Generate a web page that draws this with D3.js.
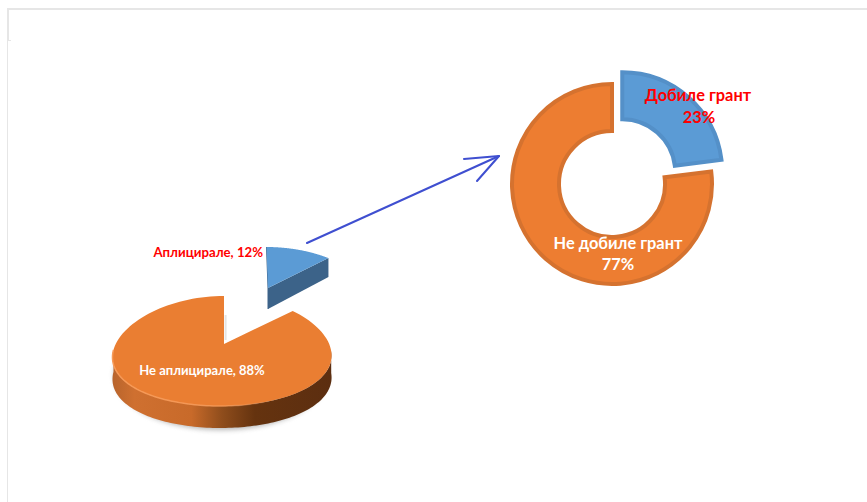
<!DOCTYPE html>
<html>
<head>
<meta charset="utf-8">
<style>
  html, body { margin: 0; padding: 0; background: #fff; }
  svg { display: block; }
  text { font-family: Lato, "Open Sans", "Noto Sans", sans-serif; font-weight: 700; }
</style>
<script src="https://cdn.jsdelivr.net/npm/d3@7"></script>
</head>
<body>
<svg id="chart" width="867" height="502"></svg>
<script>
// Applied vs. not applied (3D pie)
const applyLabels = ["Аплицирале, 12%", "Не аплицирале, 88%"];
const applyValues = [12, 88];
// Grant outcome (doughnut)
const grantNames = ["Добиле грант", "Не добиле грант"];
const grantValues = [23, 77];
const grantPercents = ["23%", "77%"];

const BLUE = "#5b9bd5", ORANGE = "#ed7d31", ORANGE_TOP = "#ea7e32";
const svg = d3.select("#chart");
const defs = svg.append("defs");

// Page frame
const frame = svg.append("g").attr("fill", "#e6e6e6");
frame.append("rect").attr("x", 7).attr("y", 8).attr("width", 860).attr("height", 2);
frame.append("rect").attr("x", 7).attr("y", 8).attr("width", 2).attr("height", 33);
frame.append("rect").attr("x", 7).attr("y", 40).attr("width", 4).attr("height", 1);
frame.append("rect").attr("x", 7).attr("y", 40).attr("width", 1).attr("height", 462);

// ---- 3D pie ----
const pieSlices = d3.pie().value(d => d).sort(null)(applyValues);
const PERSPECTIVE = 0.1;          // far edge of the disc narrows a little
const project = (a, o) => [
  o.cx + o.rx * Math.sin(a) * (1 - PERSPECTIVE * Math.cos(a)) + o.lean * Math.cos(a),
  o.cy - o.ry * Math.cos(a)
];
const rimPoints = (a0, a1, o) => d3.range(0, 121).map(i => project(a0 + (a1 - a0) * i / 120, o));
const line = d3.line();

const orangeDisc = { cx: 222.2, cy: 351, rx: 109, ry: 55, lean: 1.8, ax: 224, ay: 344, depth: 22 };
const blueWedge = { cx: 268, cy: 288, rx: 97, ry: 41, lean: -1.5, ax: 268, ay: 288, depth: 21 };

// Soft shadow under the disc, kept below the notch
defs.append("filter").attr("id", "soft").attr("x", "-20%").attr("y", "-40%").attr("width", "140%").attr("height", "180%")
  .append("feGaussianBlur").attr("stdDeviation", 2.5);
defs.append("clipPath").attr("id", "belowDisc").append("rect")
  .attr("x", 90).attr("y", 352).attr("width", 270).attr("height", 100);
svg.append("g").attr("clip-path", "url(#belowDisc)")
  .append("ellipse").attr("cx", 221).attr("cy", 375).attr("rx", 107).attr("ry", 55)
  .attr("fill", "#7d7d7d").attr("opacity", 0.55).attr("filter", "url(#soft)");

// Orange side wall, lit from the left
const sideGrad = defs.append("linearGradient").attr("id", "sideGrad");
[[0, "#b8642c"], [0.1, "#cf7030"], [0.36, "#c86a2a"], [0.5, "#8f4d1c"], [0.65, "#65330f"], [1, "#5c2e10"]]
  .forEach(([o, c]) => sideGrad.append("stop").attr("offset", o).attr("stop-color", c));
// Rim highlight fades out towards the shaded side
const rimGrad = defs.append("linearGradient").attr("id", "rimGrad");
[[0, "#f79a58", 1], [0.5, "#f79a58", 0.8], [0.72, "#f79a58", 0]]
  .forEach(([o, c, a]) => rimGrad.append("stop").attr("offset", o).attr("stop-color", c).attr("stop-opacity", a));

const o = orangeDisc;
const [orangeSlice, blueSlice] = [pieSlices[1], pieSlices[0]];
const frontRim = rimPoints(Math.PI / 2, 3 * Math.PI / 2 + 0.02, o);
svg.append("path")
  .attr("d", line(frontRim.concat(frontRim.map(p => [p[0], p[1] + o.depth]).reverse())) + "Z")
  .attr("fill", "url(#sideGrad)");

// Faint shade on the cut wall of the notch
svg.append("path").attr("d", line([[225.6, 315], [225.6, 340]]))
  .attr("stroke", "#e4e4e4").attr("stroke-width", 2).attr("fill", "none");

// Orange top face
const orangeRim = rimPoints(orangeSlice.startAngle, orangeSlice.endAngle, o);
svg.append("path")
  .attr("d", line([[o.ax, o.ay], ...orangeRim]) + "Z")
  .attr("fill", ORANGE_TOP);
// Bevel highlight along the near edge
svg.append("path")
  .attr("d", line(frontRim))
  .attr("fill", "none").attr("stroke", "url(#rimGrad)").attr("stroke-width", 1.5);

// Blue wedge: cut face first, then top
const b = blueWedge;
const blueRim = rimPoints(blueSlice.startAngle, blueSlice.endAngle, b);
const corner = blueRim[blueRim.length - 1];
svg.append("path")
  .attr("d", line([[b.ax, b.ay], corner, [corner[0], corner[1] + b.depth - 2], [b.ax, b.ay + b.depth]]) + "Z")
  .attr("fill", "#3c6389");
svg.append("path")
  .attr("d", line([blueRim[0], [b.ax, b.ay], [b.ax, b.ay + b.depth]]))
  .attr("fill", "none").attr("stroke", "#3c6389").attr("stroke-width", 1);
svg.append("path")
  .attr("d", line([[b.ax, b.ay], ...blueRim]) + "Z")
  .attr("fill", BLUE);

svg.append("text").attr("x", 263).attr("y", 256.5).attr("text-anchor", "end")
  .attr("font-size", 13.2).attr("fill", "#ff0000").text(applyLabels[0]);
svg.append("text").attr("x", 202).attr("y", 375).attr("text-anchor", "middle")
  .attr("font-size", 13).attr("fill", "#ffffff").text(applyLabels[1]);

// ---- Connecting arrow ----
const arrow = svg.append("g").attr("fill", "none").attr("stroke", "#3f4fd0")
  .attr("stroke-width", 2).attr("stroke-linecap", "round").attr("stroke-linejoin", "round");
arrow.append("path").attr("d", line([[307, 243], [499, 156]]));
arrow.append("path").attr("d", line([[464, 159], [499, 156], [477, 181]]));

// ---- Doughnut ----
const center = [612, 184];
const outer = 102, inner = 51, explode = 15.5;
const donutSlices = d3.pie().value(d => d).sort(null)(grantValues);
const arc = d3.arc().innerRadius(inner + 2).outerRadius(outer - 2);
const strokes = ["#5490c8", "#d5722f"];
const fills = [BLUE, ORANGE];
donutSlices.forEach((s, i) => {
  const mid = (s.startAngle + s.endAngle) / 2;
  const shift = i === 0 ? explode : 0;
  const x = center[0] + shift * Math.sin(mid);
  const y = center[1] - shift * Math.cos(mid);
  svg.append("path").attr("transform", `translate(${x},${y})`)
    .attr("d", arc(s)).attr("fill", fills[i])
    .attr("stroke", strokes[i]).attr("stroke-width", 4);
});

const grantText = svg.append("g").attr("text-anchor", "middle").attr("font-size", 16.4);
grantText.append("text").attr("x", 698).attr("y", 101).attr("fill", "#ff0000").text(grantNames[0]);
grantText.append("text").attr("x", 699).attr("y", 123).attr("fill", "#ff0000").text(grantPercents[0]);
grantText.append("text").attr("x", 618).attr("y", 249).attr("fill", "#ffffff").text(grantNames[1]);
grantText.append("text").attr("x", 618).attr("y", 270).attr("fill", "#ffffff").text(grantPercents[1]);
</script>
</body>
</html>
